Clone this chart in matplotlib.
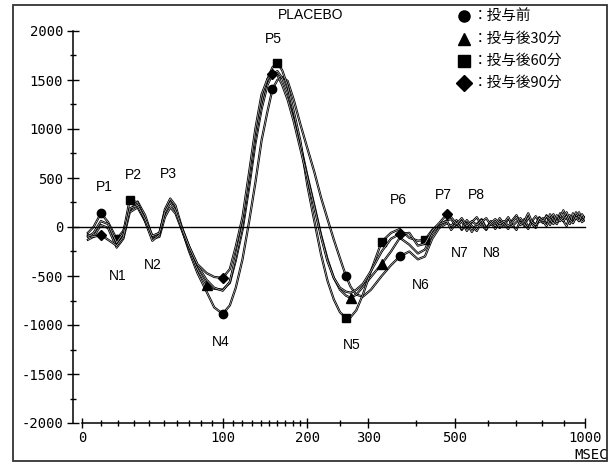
import numpy as np
import matplotlib
matplotlib.use("Agg")
import matplotlib.pyplot as plt
from matplotlib.patches import Rectangle

# time points (msec) shared by all four curves
t_ms = [3, 6, 10, 14, 19, 23, 27, 32, 37, 42, 47, 51, 55, 59, 64, 70, 77, 85, 92, 100,
        107, 113, 120, 127, 134, 141, 148, 154, 160, 166, 173, 181, 190, 200, 210, 220,
        230, 240, 250, 260, 268, 278, 290, 305, 326, 345, 364, 385, 405, 422, 440, 458, 479,
        490, 505, 520, 535, 550, 565, 580, 595, 610, 625, 640, 655, 670, 685, 700, 715,
        730, 745, 760, 775, 790, 805, 820, 835, 850, 865, 880, 895, 910, 925, 940, 955,
        970, 985, 1000]

pre = [-60, 0, 140, 50, -122, -40, 170, 260, 120, -100, -60, 150, 270, 190, -20, -250,
       -470, -660, -820, -887, -800, -620, -330, 50, 450, 880, 1180, 1408, 1500, 1530,
       1490, 1300, 1050, 800, 560, 300, 80, -130, -320, -500, -610, -690, -710, -640,
       -500, -390, -300, -250, -330, -300, -120, -10, 40,
       10, 70, -30, 40, -50, 30, 80, -10, 50, -20, 60, 0, 90, 20, -30, 70, 10, 100, 30,
       -10, 80, 40, 120, 20, 90, 50, 140, 60, 10, 110, 70, 150, 60, 120, 90]
after30 = [-130, -100, 20, -10, -210, -120, 150, 200, 60, -120, -100, 100, 200, 140, -30,
           -230, -430, -592, -630, -640, -570, -340, -30, 400, 850, 1200, 1450, 1560, 1590,
           1520, 1380, 1150, 850, 520, 220, -80, -330, -520, -640, -700, -724, -690, -610,
           -510, -377, -250, -110, -180, -270, -230, -70, 20, 70,
           80, 0, 60, -40, 50, 100, 20, -30, 60, 10, 90, 30, -20, 70, 120, 40, 80, 0, 60,
           110, 50, 90, 20, 130, 70, 30, 100, 170, 80, 120, 40, 110, 150, 70, 100]
after60 = [-100, -60, 60, 30, -160, -60, 280, 250, 60, -140, -80, 180, 290, 220, 0, -200,
           -390, -540, -620, -650, -560, -300, 20, 470, 920, 1270, 1510, 1630, 1673, 1600,
           1440, 1180, 880, 420, 60, -280, -550, -740, -870, -928, -920, -850, -690, -450,
           -150, -60, -20, -110, -140, -130, -30, 30, 60,
           -30, 40, -20, 70, 10, -40, 50, 90, 20, 60, -10, 40, 100, 10, 50, 90, 30, -20, 60,
           20, 100, 60, 10, 80, 130, 50, 90, 60, 110, 30, 140, 80, 110, 50, 80]
after90 = [-80, -100, -82, -130, -190, -100, 190, 220, 80, -90, -60, 150, 250, 170, -10,
           -200, -380, -470, -510, -520, -430, -200, 100, 550, 1000, 1350, 1510, 1560, 1550,
           1450, 1300, 1080, 800, 500, 200, -100, -350, -520, -620, -660, -670, -640, -580,
           -450, -250, -120, -71, -60, -190, -170, -40, 40, 133,
           100, 30, 90, 10, 60, 20, 70, -20, 40, 80, 30, 60, 10, 50, 100, 20, 60, 140, 50,
           20, 90, 60, 110, 80, 30, 120, 60, 100, 150, 70, 40, 100, 60, 130, 70]

# where the symbols sit on each curve (indices into t_ms)
marks_pre = [2, 4, 19, 27, 39, 46]
marks_30 = [17, 40, 44]
marks_60 = [6, 28, 39, 44, 49]
marks_90 = [2, 19, 27, 46, 52]

legend_labels = ["：投与前", "：投与後30分", "：投与後60分", "：投与後90分"]
peak_labels = ["P1", "P2", "P3", "P5", "P6", "P7", "P8",
               "N1", "N2", "N4", "N5", "N6", "N7", "N8"]
peak_xy = [(104, 187), (133, 175), (168, 174), (273, 39), (398, 200), (443, 195), (476, 195),
           (118, 276), (153, 265), (221, 342), (352, 345), (421, 285), (460, 253), (492, 253)]

W, H = 610, 467
fig = plt.figure(figsize=(W / 100, H / 100), dpi=100)
ax = fig.add_axes([82 / W, 1 - 423 / H, (585 - 82) / W, (423 - 31) / H])

# the time axis is compressed: roughly log(1 + t/110)
ax.set_xscale("function", functions=(lambda x: np.log1p(np.asarray(x) / 110.0),
                                     lambda y: 110.0 * np.expm1(y)))
ax.set_xlim(0, 1000)
ax.set_ylim(-2000, 2000)

curves = [(pre, "o", marks_pre, 6), (after30, "^", marks_30, 6.5),
          (after60, "s", marks_60, 6), (after90, "D", marks_90, 5.5)]
for vals, mk, marks, ms in curves:
    ax.plot(t_ms, vals, color="black", lw=1.6, solid_joinstyle="round")
    ax.plot(t_ms, vals, color="white", lw=0.35)
    ax.plot(t_ms, vals, ls="none", marker=mk, markevery=marks, ms=ms,
            color="black", mec="black")

ax.axhline(0, xmin=-9 / 503, xmax=1.0, color="black", lw=1.0, clip_on=False)

# axes styling
mono = "DejaVu Sans Mono"
for s in ["top", "right"]:
    ax.spines[s].set_visible(False)
ax.spines["left"].set_position(("outward", 6.5))
ax.spines["left"].set_linewidth(1.1)
ax.spines["bottom"].set_linewidth(1.1)

yt = [-2000, -1500, -1000, -500, 0, 500, 1000, 1500, 2000]
ax.set_yticks(yt)
ax.set_yticklabels([str(v) for v in yt], family=mono, fontsize=10)
ax.set_yticks([v + 250 for v in yt[:-1]], minor=True)
ax.tick_params(axis="y", which="major", direction="inout", length=8, width=1, pad=3)
ax.tick_params(axis="y", which="minor", direction="inout", length=4, width=1)

xt = [0, 100, 200, 300, 500, 1000]
ax.set_xticks(xt)
ax.set_xticklabels([str(v) for v in xt], family=mono, fontsize=10)
xminor = list(range(10, 100, 10)) + list(range(110, 200, 10)) + [250, 400, 600, 700, 800, 900]
ax.set_xticks(xminor, minor=True)
ax.tick_params(axis="x", which="major", direction="inout", length=7, width=1, pad=2)
ax.tick_params(axis="x", which="minor", direction="inout", length=4, width=1)

fig.text(591 / W, 1 - 455 / H, "MSEC", family=mono, fontsize=10, ha="center", va="center")

# title and peak names
fig.text(311 / W, 1 - 15 / H, "PLACEBO", family="Liberation Sans", fontsize=10,
         ha="center", va="center")
for lab, (px, py) in zip(peak_labels, peak_xy):
    fig.text(px / W, 1 - py / H, lab, family="Liberation Sans", fontsize=10,
             ha="center", va="center")

# hand drawn legend in the top right corner
leg_marks = ["o", "^", "s", "D"]
leg_y = [16, 39, 61, 83]
for mk, lab, py in zip(leg_marks, legend_labels, leg_y):
    fig.add_artist(plt.Line2D([464 / W], [1 - py / H], marker=mk, ms=8, color="black",
                              ls="none"))
    fig.text(473 / W, 1 - py / H, lab, family=["Noto Sans CJK JP", "DejaVu Sans"],
             fontsize=10.5, ha="left", va="center")

# outer frame of the scanned figure
fig.add_artist(Rectangle((13 / W, 1 - 461 / H), (607 - 13) / W, (461 - 5) / H,
                         transform=fig.transFigure, fill=False, ec="#333333", lw=1.3))

fig.savefig("out.png", dpi=100)
